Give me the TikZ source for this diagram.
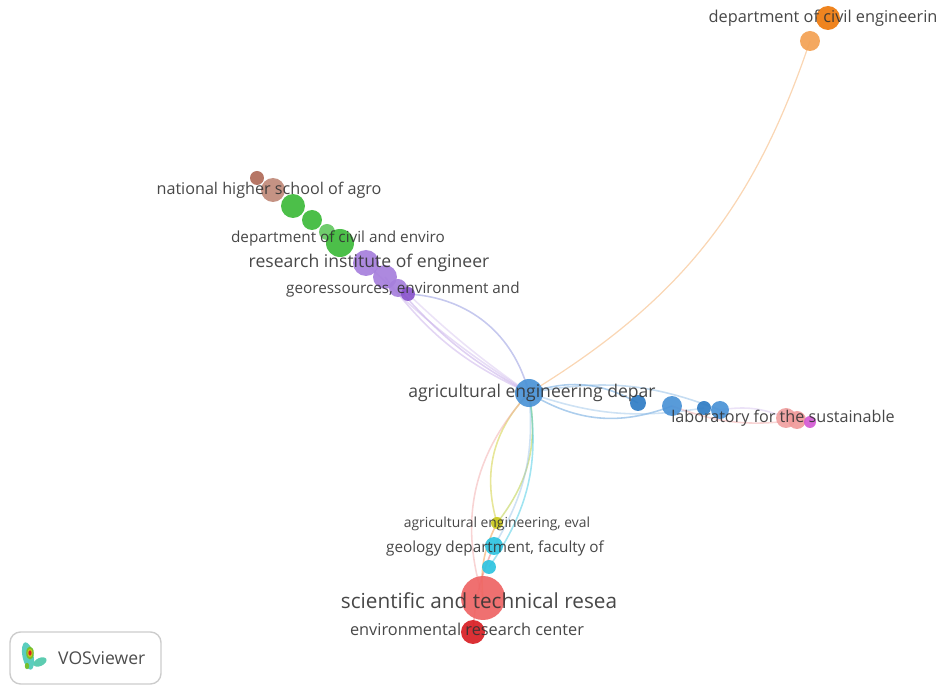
\documentclass[tikz,border=0pt]{standalone}
\usepackage{fontspec}
\setmainfont{Open Sans}
\usepackage{xcolor}
\definecolor{colText}{HTML}{333333}
\definecolor{colBlue}{HTML}{4A92D6}
\definecolor{colDBlue}{HTML}{2F7CC4}
\definecolor{colRed}{HTML}{EE6464}
\definecolor{colDRed}{HTML}{D81E24}
\definecolor{colGreen}{HTML}{3DBA3A}
\definecolor{colPurple}{HTML}{A67FDC}
\definecolor{colDPurple}{HTML}{8A55CC}
\definecolor{colYellow}{HTML}{C9C81C}
\definecolor{colCyan}{HTML}{2EC3E0}
\definecolor{colOrange}{HTML}{F08A28}
\definecolor{colDOrange}{HTML}{EE7A0C}
\definecolor{colBrown}{HTML}{C08A7A}
\definecolor{colDBrown}{HTML}{B06A58}
\definecolor{colPink}{HTML}{F0A0A0}
\definecolor{colMagenta}{HTML}{D45AD4}
\usetikzlibrary{positioning, backgrounds}
\tikzset{
  item/.style={circle, inner sep=0pt, draw=none, fill opacity=0.92},
  sz/.style={minimum size=#1*0.04cm},
  lbl/.style={text=colText, inner sep=0pt, text opacity=0.9},
  link/.style={line width=0.9pt, draw opacity=0.45},
}
\newcommand{\fsz}[1]{\fontsize{#1}{#1}\selectfont}

\begin{document}
\begin{tikzpicture}[x=0.02cm, y=-0.02cm]
    \useasboundingbox (0,0) rectangle (938,685);
    % Items
    \node[item, sz=12, fill=colDOrange] (civEng) at (828,18) {};
    \node[item, sz=10, fill=colOrange!80] (civEngB) at (810,41) {};
    \node[item, sz=7, fill=colDBrown] (natAgroB) at (257,178) {};
    \node[item, sz=12, fill=colBrown] (natAgro) at (273,190) {};
    \node[item, sz=12, fill=colGreen] (grnA) at (293,206) {};
    \node[item, sz=10, fill=colGreen] (grnB) at (312,220) {};
    \node[item, sz=8, fill=colGreen!80] (grnC) at (327,232) {};
    \node[item, sz=14, fill=colGreen] (civEnv) at (340,243) {};
    \node[item, sz=13, fill=colPurple] (resInst) at (366,263) {};
    \node[item, sz=12, fill=colPurple] (purB) at (385,277) {};
    \node[item, sz=9, fill=colPurple] (purC) at (398,288) {};
    \node[item, sz=7, fill=colDPurple] (geoRes) at (408,294) {};
    \node[item, sz=14, fill=colBlue] (agriDep) at (529,393) {};
    \node[item, sz=8, fill=colDBlue] (bluA) at (638,403) {};
    \node[item, sz=10, fill=colBlue] (bluB) at (672,406) {};
    \node[item, sz=7, fill=colDBlue] (bluC) at (704,408) {};
    \node[item, sz=9, fill=colBlue] (bluD) at (720,410) {};
    \node[item, sz=10, fill=colPink] (labSus) at (786,418) {};
    \node[item, sz=9, fill=colPink!90!colRed] (pinkB) at (797,420) {};
    \node[item, sz=6, fill=colMagenta] (magA) at (810,422) {};
    \node[item, sz=6, fill=colYellow] (agriEval) at (497,523) {};
    \node[item, sz=9, fill=colCyan] (geoDep) at (494,546) {};
    \node[item, sz=7, fill=colCyan] (cyaB) at (489,567) {};
    \node[item, sz=22, fill=colRed] (sciTech) at (483,598) {};
    \node[item, sz=12, fill=colDRed] (envRes) at (473,632) {};

    % Links (behind the items)
    \begin{scope}[on background layer]
    \draw[link, line width=0.7pt, draw opacity=0.35, colOrange] (agriDep.center) to[bend right=20] (civEngB.center);
    \draw[link, colPurple!60!colBlue] (agriDep.center) to[bend right=36] (geoRes.center);
    \draw[link, colPurple!80] (agriDep.center) to[bend left=10] (purC.center);
    \draw[link, colPurple!70] (agriDep.center) to[bend left=14] (purB.center);
    \draw[link, colPurple!60] (agriDep.center) to[bend left=6] (resInst.center);
    \draw[link, colPurple!50] (agriDep.center) to[bend left=4] (geoRes.center);
    \draw[link, colBlue] (agriDep.center) to[bend left=24] (bluA.center);
    \draw[link, colBlue] (agriDep.center) to[bend right=26] (bluB.center);
    \draw[link, colBlue!70] (agriDep.center) to[bend left=16] (bluD.center);
    \draw[link, colBlue!60] (agriDep.center) to[bend right=14] (bluC.center);
    \draw[link, colPurple!50] (bluD.center) to[bend left=16] (labSus.center);
    \draw[link, colPink] (bluB.center) to[bend right=14] (pinkB.center);
    \draw[link, colYellow] (agriDep.center) to[bend right=30] (agriEval.center);
    \draw[link, colYellow!80!colGreen] (agriDep.center) to[bend left=24] (agriEval.center);
    \draw[link, colBlue!60] (agriDep.center) to[bend left=18] (geoDep.center);
    \draw[link, colCyan] (agriDep.center) to[bend left=22] (cyaB.center);
    \draw[link, colPink] (agriDep.center) to[bend right=30] (sciTech.center);
    \draw[link, colOrange] (agriEval.center) to[bend right=16] (sciTech.center);
    \draw[link, colRed] (geoDep.center) to[bend right=10] (envRes.center);
    \end{scope}

    % Labels
    \node[lbl, font=\fsz{9.3}] (civEngL) at (823,18) {department of civil engineerin};
    \node[lbl, font=\fsz{9.2}] (natAgroL) at (269,190) {national higher school of agro};
    \node[lbl, font=\fsz{8.7}] (civEnvL) at (338,238) {department of civil and enviro};
    \node[lbl, font=\fsz{10}] (resInstL) at (369,263) {research institute of engineer};
    \node[lbl, font=\fsz{8.7}] (geoResL) at (403,290) {georessources, environment and};
    \node[lbl, font=\fsz{10}] (agriDepL) at (532,393) {agricultural engineering depar};
    \node[lbl, font=\fsz{9.2}] (labSusL) at (783,418) {laboratory for the sustainable};
    \node[lbl, font=\fsz{7.9}] (agriEvalL) at (497,524) {agricultural engineering, eval};
    \node[lbl, font=\fsz{8.7}] (geoDepL) at (495,548) {geology department, faculty of};
    \node[lbl, font=\fsz{11.8}] (sciTechL) at (479,601) {scientific and technical resea};
    \node[lbl, font=\fsz{9.3}] (envResL) at (467,629) {environmental research center};

    % VOSviewer badge
    \node[draw=black!20, rounded corners=6pt, line width=0.8pt, minimum width=151*0.02cm,
          minimum height=52*0.02cm] (badge) at (85.5,658) {};
    \node[text=black!70, font=\fsz{10}, anchor=west] (badgeL) at (52,658) {VOSviewer};
    \fill[colCyan!60!colGreen!80, rotate around={25:(40,662)}] (40,662) ellipse (7 and 4);
    \fill[colCyan!70!colGreen!80, rotate around={12:(28,656)}] (28,656) ellipse (5.5 and 14);
    \fill[colGreen!60!colYellow] (30,653) ellipse (3.8 and 6.5);
    \fill[colGreen!60!colYellow] (27,666) ellipse (2.2 and 3.2);
    \fill[colYellow] (30,653) ellipse (2.6 and 4.2);
    \fill[colDRed] (30,653) ellipse (1.6 and 2.6);
\end{tikzpicture}
\end{document}
